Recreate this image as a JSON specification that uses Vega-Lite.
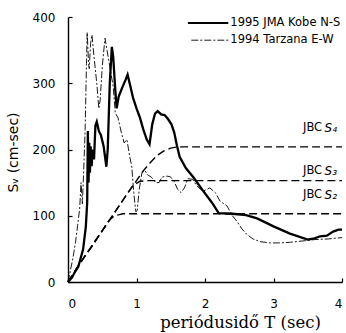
{
  "$schema": "https://vega.github.io/schema/vega-lite/v6.json",
  "width": 274,
  "height": 265,
  "autosize": {"type": "none"},
  "padding": {"left": 68, "top": 17, "right": 4, "bottom": 51},
  "background": "white",
  "config": {
    "view": {"stroke": null},
    "axis": {
      "grid": false,
      "domainColor": "black",
      "domainWidth": 1.4,
      "tickColor": "black",
      "tickWidth": 1.2,
      "tickSize": -4,
      "labelFont": "DejaVu Sans",
      "labelFontSize": 12,
      "labelColor": "black"
    }
  },
  "datasets": {
    "kobe": [
      {"T":0,"Sv":0},{"T":0.06,"Sv":7},{"T":0.1,"Sv":15},{"T":0.15,"Sv":23},{"T":0.22,"Sv":49},{"T":0.26,"Sv":83},{"T":0.28,"Sv":120},{"T":0.29,"Sv":228},{"T":0.3,"Sv":150},{"T":0.31,"Sv":210},{"T":0.32,"Sv":165},{"T":0.33,"Sv":205},{"T":0.345,"Sv":175},{"T":0.36,"Sv":200},{"T":0.38,"Sv":185},{"T":0.4,"Sv":236},{"T":0.42,"Sv":242},{"T":0.45,"Sv":228},{"T":0.48,"Sv":222},{"T":0.52,"Sv":205},{"T":0.56,"Sv":174},{"T":0.58,"Sv":200},{"T":0.61,"Sv":300},{"T":0.64,"Sv":355},{"T":0.66,"Sv":340},{"T":0.69,"Sv":290},{"T":0.71,"Sv":262},{"T":0.74,"Sv":280},{"T":0.79,"Sv":293},{"T":0.84,"Sv":305},{"T":0.87,"Sv":313},{"T":0.9,"Sv":300},{"T":0.95,"Sv":278},{"T":1.0,"Sv":262},{"T":1.05,"Sv":248},{"T":1.1,"Sv":230},{"T":1.15,"Sv":215},{"T":1.19,"Sv":208},{"T":1.23,"Sv":238},{"T":1.27,"Sv":254},{"T":1.31,"Sv":258},{"T":1.36,"Sv":253},{"T":1.41,"Sv":252},{"T":1.46,"Sv":246},{"T":1.51,"Sv":238},{"T":1.55,"Sv":226},{"T":1.59,"Sv":206},{"T":1.63,"Sv":189},{"T":1.72,"Sv":172},{"T":1.83,"Sv":158},{"T":1.97,"Sv":138},{"T":2.1,"Sv":120},{"T":2.2,"Sv":104},{"T":2.4,"Sv":103},{"T":2.6,"Sv":101},{"T":2.76,"Sv":96},{"T":3.0,"Sv":84},{"T":3.24,"Sv":73},{"T":3.5,"Sv":64},{"T":3.6,"Sv":66},{"T":3.68,"Sv":69},{"T":3.78,"Sv":70},{"T":3.87,"Sv":76},{"T":3.95,"Sv":79},{"T":4.0,"Sv":79}
    ],
    "tarzana": [
      {"T":0,"Sv":0},{"T":0.03,"Sv":15},{"T":0.07,"Sv":35},{"T":0.11,"Sv":60},{"T":0.14,"Sv":85},{"T":0.17,"Sv":110},{"T":0.19,"Sv":150},{"T":0.21,"Sv":118},{"T":0.23,"Sv":170},{"T":0.25,"Sv":230},{"T":0.27,"Sv":330},{"T":0.28,"Sv":377},{"T":0.3,"Sv":330},{"T":0.31,"Sv":322},{"T":0.33,"Sv":360},{"T":0.35,"Sv":373},{"T":0.38,"Sv":340},{"T":0.42,"Sv":300},{"T":0.45,"Sv":262},{"T":0.47,"Sv":275},{"T":0.5,"Sv":325},{"T":0.54,"Sv":368},{"T":0.57,"Sv":350},{"T":0.61,"Sv":325},{"T":0.66,"Sv":295},{"T":0.69,"Sv":255},{"T":0.73,"Sv":248},{"T":0.78,"Sv":225},{"T":0.82,"Sv":210},{"T":0.86,"Sv":215},{"T":0.9,"Sv":190},{"T":0.93,"Sv":175},{"T":0.96,"Sv":135},{"T":0.99,"Sv":106},{"T":1.01,"Sv":108},{"T":1.04,"Sv":140},{"T":1.08,"Sv":165},{"T":1.12,"Sv":169},{"T":1.16,"Sv":162},{"T":1.22,"Sv":158},{"T":1.28,"Sv":150},{"T":1.33,"Sv":150},{"T":1.37,"Sv":158},{"T":1.43,"Sv":160},{"T":1.49,"Sv":159},{"T":1.54,"Sv":154},{"T":1.6,"Sv":140},{"T":1.65,"Sv":135},{"T":1.7,"Sv":142},{"T":1.75,"Sv":156},{"T":1.82,"Sv":155},{"T":1.88,"Sv":145},{"T":1.97,"Sv":137},{"T":2.07,"Sv":142},{"T":2.15,"Sv":135},{"T":2.22,"Sv":122},{"T":2.32,"Sv":115},{"T":2.4,"Sv":100},{"T":2.47,"Sv":91},{"T":2.54,"Sv":80},{"T":2.61,"Sv":72},{"T":2.7,"Sv":65},{"T":2.8,"Sv":61},{"T":2.95,"Sv":59},{"T":3.1,"Sv":59},{"T":3.25,"Sv":60},{"T":3.43,"Sv":62},{"T":3.6,"Sv":64},{"T":3.8,"Sv":65},{"T":4.0,"Sv":67}
    ],
    "jbc": [
      {"s":"S2","T":0,"Sv":0},{"s":"S2","T":0.18,"Sv":29},{"s":"S2","T":0.365,"Sv":56},{"s":"S2","T":0.51,"Sv":79},{"s":"S2","T":0.6,"Sv":93},{"s":"S2","T":0.68,"Sv":100},{"s":"S2","T":0.8,"Sv":103},{"s":"S2","T":4,"Sv":103},
      {"s":"S3","T":0,"Sv":0},{"s":"S3","T":0.18,"Sv":29},{"s":"S3","T":0.365,"Sv":57},{"s":"S3","T":0.61,"Sv":94},{"s":"S3","T":0.85,"Sv":131},{"s":"S3","T":0.95,"Sv":146},{"s":"S3","T":1.05,"Sv":152},{"s":"S3","T":1.15,"Sv":153},{"s":"S3","T":4,"Sv":153},
      {"s":"S4","T":0,"Sv":0},{"s":"S4","T":0.18,"Sv":29},{"s":"S4","T":0.365,"Sv":57},{"s":"S4","T":0.61,"Sv":94},{"s":"S4","T":0.85,"Sv":131},{"s":"S4","T":1.0,"Sv":153},{"s":"S4","T":1.1,"Sv":168},{"s":"S4","T":1.2,"Sv":180},{"s":"S4","T":1.3,"Sv":191},{"s":"S4","T":1.4,"Sv":198},{"s":"S4","T":1.5,"Sv":202},{"s":"S4","T":1.6,"Sv":204},{"s":"S4","T":4,"Sv":204}
    ],
    "jbclabels": [
      {"T":3.71,"T2":3.745,"Sv":233,"a":"JBC","b":"S₄"},
      {"T":3.71,"T2":3.745,"Sv":167,"a":"JBC","b":"S₃"},
      {"T":3.71,"T2":3.745,"Sv":131,"a":"JBC","b":"S₂"}
    ],
    "legendKobe": [{"T":1.75,"Sv":391},{"T":2.34,"Sv":391}],
    "legendTarz": [{"T":1.8,"Sv":365},{"T":2.34,"Sv":365}],
    "legendText": [
      {"T":2.37,"Sv":391,"label":"1995 JMA Kobe N-S"},
      {"T":2.37,"Sv":365,"label":"1994 Tarzana E-W"}
    ]
  },
  "encoding": {
    "x": {
      "field": "T", "type": "quantitative",
      "scale": {"domain": [0, 4], "nice": false, "zero": false},
      "axis": {
        "values": [0, 1, 2, 3, 4],
        "labelPadding": 20,
        "title": "periódusidő T (sec)",
        "titleFont": "DejaVu Serif",
        "titleFontSize": 16.5,
        "titleFontWeight": "normal",
        "titleColor": "black",
        "titleX": 172,
        "titleY": 40,
        "titleBaseline": "middle",
        "titleAlign": "center"
      }
    },
    "y": {
      "field": "Sv", "type": "quantitative",
      "scale": {"domain": [0, 400], "nice": false},
      "axis": {
        "values": [0, 100, 200, 300, 400],
        "labelPadding": 17,
        "title": "Sᵥ (cm-sec)",
        "titleFont": "DejaVu Sans",
        "titleFontSize": 14,
        "titleFontWeight": "normal",
        "titleColor": "black",
        "titleX": -55,
        "titleY": 135,
        "titleAngle": -90,
        "titleBaseline": "middle",
        "titleAlign": "center"
      }
    }
  },
  "layer": [
    {
      "data": {"name": "jbc"},
      "mark": {"type": "line", "color": "black", "strokeWidth": 1.4, "strokeDash": [8, 4]},
      "encoding": {"detail": {"field": "s"}}
    },
    {
      "data": {"name": "tarzana"},
      "mark": {"type": "line", "color": "black", "strokeWidth": 0.9, "strokeDash": [7, 2, 2, 2]},
      "encoding": {}
    },
    {
      "data": {"name": "kobe"},
      "mark": {"type": "line", "color": "black", "strokeWidth": 2.3},
      "encoding": {}
    },
    {
      "data": {"name": "legendKobe"},
      "mark": {"type": "line", "color": "black", "strokeWidth": 2},
      "encoding": {}
    },
    {
      "data": {"name": "legendTarz"},
      "mark": {"type": "line", "color": "black", "strokeWidth": 0.9, "strokeDash": [7, 2, 2, 2]},
      "encoding": {}
    },
    {
      "data": {"name": "legendText"},
      "mark": {"type": "text", "align": "left", "baseline": "middle", "font": "DejaVu Sans", "fontSize": 11.5, "color": "black"},
      "encoding": {"text": {"field": "label"}}
    },
    {
      "data": {"name": "jbclabels"},
      "mark": {"type": "text", "align": "right", "baseline": "middle", "font": "DejaVu Sans", "fontSize": 11.5, "color": "black"},
      "encoding": {"text": {"field": "a"}}
    },
    {
      "data": {"name": "jbclabels"},
      "mark": {"type": "text", "align": "left", "baseline": "middle", "font": "DejaVu Sans", "fontSize": 12, "fontStyle": "italic", "color": "black"},
      "encoding": {"x": {"field": "T2", "type": "quantitative"}, "text": {"field": "b"}}
    }
  ]
}
